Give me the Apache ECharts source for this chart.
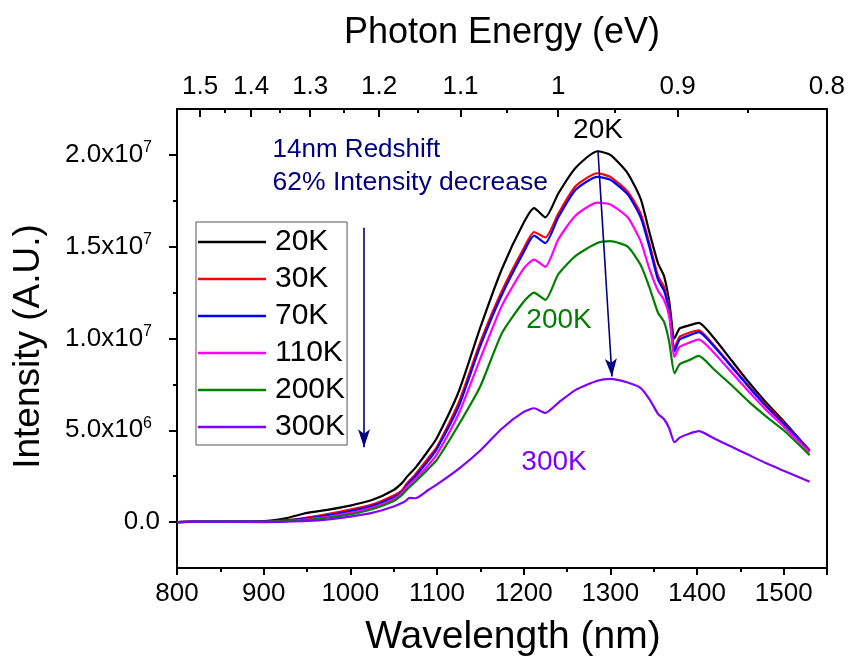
<!DOCTYPE html>
<html><head><meta charset="utf-8">
<script src="https://cdn.jsdelivr.net/npm/echarts@6/dist/echarts.min.js"></script>
<style>html,body{margin:0;padding:0;background:#fff}#c{width:850px;height:662px}</style>
</head><body><div id="c"></div>
<script>
// Wavelength (nm)
const wavelength = [800,850,900,925,950,975,1000,1025,1050,1060,1065,1068,1075,1090,1100,1125,1150,1175,1200,1212,1225,1240,1260,1285,1300,1320,1335,1345,1355,1362,1368,1374,1380,1390,1402,1420,1440,1460,1480,1500,1530];
// Intensities in units of 1e6 (A.U.)
const s20K  = [0.0,0.05,0.05,0.2,0.5,0.68,0.9,1.2,1.75,2.15,2.45,2.6,2.95,3.9,4.6,7.1,10.6,13.8,16.3,17.1,16.6,17.9,19.3,20.2,20.0,19.0,17.6,15.8,14.1,13.4,12.0,10.0,10.55,10.7,10.85,10.0,8.8,7.6,6.5,5.5,3.9];
const s30K  = [0.0,0.05,0.03,0.1,0.25,0.45,0.68,0.95,1.45,1.75,2.1,2.25,2.6,3.5,4.1,6.5,9.8,12.6,14.9,15.8,15.5,16.8,18.3,19.0,18.8,18.0,16.8,15.2,13.4,12.8,11.6,9.5,10.1,10.3,10.45,9.6,8.5,7.4,6.35,5.4,3.9];
const s70K  = [0.0,0.05,0.03,0.08,0.2,0.38,0.6,0.88,1.35,1.65,2.0,2.15,2.5,3.35,4.0,6.3,9.6,12.4,14.7,15.6,15.2,16.6,18.1,18.8,18.65,17.85,16.6,15.0,13.2,12.6,11.4,9.3,9.95,10.15,10.35,9.55,8.45,7.35,6.3,5.35,3.85];
const s110K = [0.0,0.04,0.02,0.06,0.15,0.3,0.5,0.78,1.25,1.6,1.9,2.05,2.35,3.1,3.7,5.9,8.9,11.8,13.8,14.3,13.9,15.4,16.7,17.4,17.3,16.6,15.3,13.8,12.6,12.1,11.2,9.0,9.55,9.75,9.95,9.2,8.15,7.1,6.1,5.2,3.8];
const s200K = [0.0,0.04,0.02,0.05,0.12,0.25,0.42,0.7,1.15,1.5,1.75,1.9,2.2,2.9,3.4,5.3,7.4,10.3,12.0,12.5,12.1,13.5,14.5,15.2,15.3,15.0,14.0,12.8,11.4,10.9,9.8,8.1,8.6,8.8,9.05,8.3,7.45,6.55,5.75,5.0,3.65];
const s300K = [0.0,0.03,0.0,0.02,0.06,0.15,0.3,0.5,0.85,1.05,1.2,1.32,1.3,1.75,2.05,2.9,3.9,5.1,6.0,6.2,5.95,6.5,7.2,7.7,7.8,7.6,7.3,6.7,5.9,5.6,5.1,4.35,4.6,4.8,4.95,4.55,4.1,3.65,3.2,2.8,2.2];
const seriesNames = ['20K','30K','70K','110K','200K','300K'];
const seriesValues = [s20K,s30K,s70K,s110K,s200K,s300K];
const seriesColors = ['#000000','#ff0000','#0000ff','#ff00ff','#008000','#8000ff'];
// Top axis (photon energy, eV)
const energyTicks = [1.5,1.4,1.3,1.2,1.1,1.0,0.9,0.8];
const energyMinorTicks = [1.45,1.35,1.25,1.15,1.05,0.95,0.85];
const yTicks = [0,5e6,1e7,1.5e7,2e7];
const yMinorTicks = [2.5e6,7.5e6,1.25e7,1.75e7];
// Annotations (data coordinates)
const arrows = [
  [[1015.8,16.03e6],[1015.8,4.08e6]],
  [[1285.8,20.16e6],[1301.9,7.93e6]]
];
const annotations = [
  {text:'14nm Redshift', x:910.3, y:20.27e6, align:'left', color:'#000080', size:26},
  {text:'62% Intensity decrease', x:910.3, y:18.48e6, align:'left', color:'#000080', size:26.5},
  {text:'20K', x:1285.8, y:21.36e6, align:'center', color:'#000000', size:28},
  {text:'200K', x:1240.8, y:10.98e6, align:'center', color:'#008000', size:28},
  {text:'300K', x:1235, y:3.26e6, align:'center', color:'#8000ff', size:28}
];
const HC = 1239.84;
const FONT = "'Liberation Sans', Arial, sans-serif";

const chart = echarts.init(document.getElementById('c'), null, {renderer:'canvas'});
const axisLineStyle = {color:'#000', width:2};
const series = seriesNames.map((n,i)=>({
  name:n, type:'line', showSymbol:false, smooth:0.2,
  lineStyle:{color:seriesColors[i], width:2.2}, itemStyle:{color:seriesColors[i]},
  data: wavelength.map((w,j)=>[w, seriesValues[i][j]*1e6]),
  silent:true, z: 2
}));
series[0].markLine = {
  silent:true, symbol:['none','arrow'], symbolSize:[9,18], animation:false,
  lineStyle:{color:'#000080', width:1.6, type:'solid'}, label:{show:false},
  emphasis:{disabled:true},
  data: arrows.map(a=>[{coord:a[0]},{coord:a[1]}])
};
const option = {
  animation:false,
  backgroundColor:'#fff',
  grid:{left:177, right:23, top:109, bottom:93, containLabel:false},
  legend:{
    orient:'vertical', left:196, top:222, itemWidth:68, itemHeight:2.5, icon:'rect',
    itemGap:5, padding:[4,2,2,2], borderColor:'#555', borderWidth:1,
    textStyle:{fontSize:30, fontFamily:FONT, color:'#000', lineHeight:32, padding:[0,0,0,4]},
    data:seriesNames, selectedMode:false
  },
  xAxis:[
    {type:'value', position:'bottom', min:800, max:1550, interval:100,
     name:'Wavelength (nm)', nameLocation:'middle', nameGap:50,
     nameTextStyle:{fontSize:39, fontFamily:FONT, color:'#000', padding:[0,0,0,22]},
     axisLine:{show:true, onZero:false, lineStyle:axisLineStyle},
     axisTick:{show:true, inside:false, length:7, lineStyle:{width:2, color:'#000'}},
     minorTick:{show:true, splitNumber:2, length:4, lineStyle:{width:2, color:'#000'}},
     axisLabel:{fontSize:26, fontFamily:FONT, color:'#000', margin:13, showMinLabel:true, showMaxLabel:false,
       formatter:v=>String(v)},
     splitLine:{show:false}},
    {type:'value', position:'top', min:800, max:1550,
     name:'Photon Energy (eV)', nameLocation:'middle', nameGap:58,
     nameTextStyle:{fontSize:36, fontFamily:FONT, color:'#000'},
     axisLine:{show:true, onZero:false, lineStyle:axisLineStyle},
     axisTick:{show:true, inside:true, length:8, lineStyle:{width:2, color:'#000'}, customValues:energyTicks.map(e=>HC/e)},
     axisLabel:{fontSize:26, fontFamily:FONT, color:'#000', margin:9, customValues:energyTicks.map(e=>HC/e),
       formatter:v=>String(+(HC/v).toFixed(2))},
     splitLine:{show:false}},
    {type:'value', position:'top', min:800, max:1550,
     axisLine:{show:false, onZero:false},
     axisTick:{show:true, inside:true, length:4, lineStyle:{width:2, color:'#000'}, customValues:energyMinorTicks.map(e=>HC/e)},
     axisLabel:{show:false}, splitLine:{show:false}}
  ],
  yAxis:[
    {type:'value', position:'left', min:-2.5e6, max:2.25e7,
     name:'Intensity (A.U.)', nameLocation:'middle', nameGap:130,
     nameTextStyle:{fontSize:37, fontFamily:FONT, color:'#000', padding:[0,16,0,0]},
     axisLine:{show:true, onZero:false, lineStyle:axisLineStyle},
     axisTick:{show:true, inside:false, length:8, lineStyle:{width:2, color:'#000'}, customValues:yTicks},
     axisLabel:{margin:17, customValues:yTicks,
       formatter:v=>{ if(v===0) return '{m|0.0}'; const e=Math.floor(Math.log10(v)+1e-9); const m=v/Math.pow(10,e); return '{m|'+m.toFixed(1)+'x10}{s|'+e+'}'; },
       rich:{ m:{fontSize:26, fontFamily:FONT, color:'#000', lineHeight:30},
              s:{fontSize:16, fontFamily:FONT, color:'#000', lineHeight:16, verticalAlign:'top', padding:[0,8,0,0]} }},
     splitLine:{show:false}},
    {type:'value', position:'left', min:-2.5e6, max:2.25e7,
     axisLine:{show:false, onZero:false},
     axisTick:{show:true, inside:false, length:4, lineStyle:{width:2, color:'#000'}, customValues:yMinorTicks},
     axisLabel:{show:false}, splitLine:{show:false}},
    {type:'value', position:'right', min:-2.5e6, max:2.25e7,
     axisLine:{show:true, onZero:false, lineStyle:axisLineStyle},
     axisTick:{show:false}, axisLabel:{show:false}, splitLine:{show:false}}
  ],
  series: series
};
chart.setOption(option);
const graphics = annotations.map(a=>{
  const p = chart.convertToPixel({xAxisIndex:0, yAxisIndex:0}, [a.x, a.y]);
  return {type:'text', x:p[0], y:p[1], silent:true, z:100,
    style:{text:a.text, fill:a.color, font:a.size+'px '+FONT, textAlign:a.align, textVerticalAlign:'middle'}};
});
chart.setOption({graphic:graphics});
</script></body></html>
